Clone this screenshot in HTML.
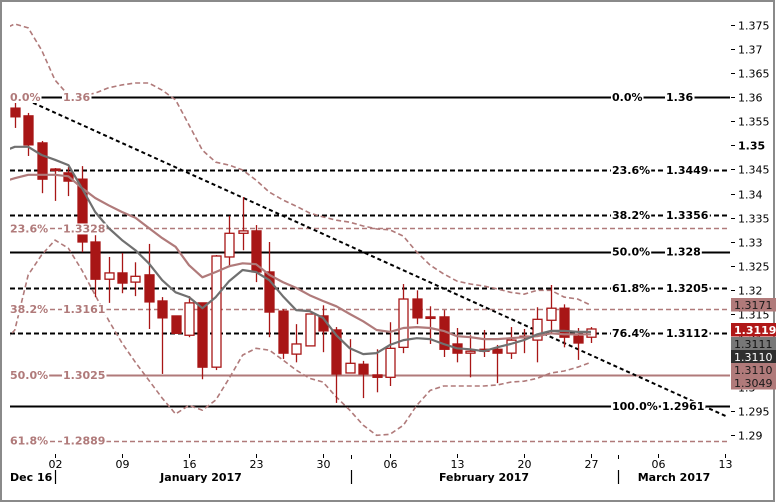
<!DOCTYPE html>
<html><head><meta charset="utf-8">
<style>
html,body{margin:0;padding:0;background:#fff;}
#wrap{position:relative;width:779px;height:503px;overflow:hidden;background:#fff;}
svg text{font-family:"DejaVu Sans","Liberation Sans",sans-serif;font-size:11px;}
</style></head>
<body>
<div id="wrap">
<svg id="chart" width="779" height="503" viewBox="0 0 779 503"></svg>
</div>
<script>
// ---- data (index 0 = Mon 02 Jan 2017, first candle index -3) ----
const firstIndex = -3;
const opens  = [1.3577,1.3561,1.3505,1.3451,1.3443,1.3430,1.3300,1.3223,1.3236,1.3217,1.3232,1.3178,1.3147,1.3107,1.3174,1.3041,1.3269,1.3318,1.3323,1.3238,1.3157,1.3068,1.3085,1.3147,1.3118,1.3029,1.3047,1.3025,1.3020,1.3082,1.3182,1.3145,1.3145,1.3089,1.3070,1.3078,1.3078,1.3070,1.3103,1.3097,1.3138,1.3163,1.3105,1.3103];
const highs  = [1.3588,1.3567,1.3509,1.3453,1.3455,1.3457,1.3314,1.3269,1.3277,1.3258,1.3296,1.3186,1.3147,1.3188,1.3174,1.3273,1.3354,1.3393,1.3335,1.3300,1.3161,1.3130,1.3151,1.3169,1.3124,1.3099,1.3054,1.3078,1.3134,1.3213,1.3200,1.3167,1.3159,1.3122,1.3107,1.3118,1.3087,1.3124,1.3120,1.3165,1.3211,1.3171,1.3122,1.3124];
const lows   = [1.3536,1.3478,1.3401,1.3385,1.3395,1.3279,1.3186,1.3174,1.3194,1.3188,1.3120,1.3027,1.3111,1.3103,1.3016,1.3035,1.3248,1.3283,1.3217,1.3103,1.3058,1.3051,1.3085,1.3072,1.2967,1.3029,1.2977,1.2989,1.3002,1.3070,1.3130,1.3089,1.3062,1.3051,1.3020,1.3062,1.3008,1.3058,1.3070,1.3051,1.3111,1.3082,1.3056,1.3091];
const closes = [1.3559,1.3501,1.3430,1.3449,1.3426,1.3300,1.3223,1.3236,1.3215,1.3229,1.3176,1.3143,1.3111,1.3174,1.3041,1.3271,1.3318,1.3323,1.3238,1.3155,1.3070,1.3089,1.3151,1.3116,1.3027,1.3049,1.3027,1.3020,1.3080,1.3182,1.3143,1.3143,1.3078,1.3070,1.3074,1.3074,1.3070,1.3097,1.3105,1.3140,1.3163,1.3103,1.3091,1.3120];
// indicator series, index -4 .. 40
const indFirst = -4;
const maFast = [1.3486,1.3497,1.3497,1.3480,1.3470,1.3459,1.3412,1.3362,1.3329,1.3304,1.3283,1.3256,1.3221,1.3196,1.3186,1.3163,1.3186,1.3219,1.3242,1.3238,1.3221,1.3188,1.3159,1.3157,1.3143,1.3107,1.3080,1.3068,1.3070,1.3087,1.3097,1.3101,1.3099,1.3089,1.3080,1.3078,1.3074,1.3082,1.3089,1.3097,1.3109,1.3116,1.3116,1.3114,1.3114];
const maSlow = [1.3424,1.3432,1.3439,1.3439,1.3439,1.3436,1.3412,1.3391,1.3376,1.3362,1.3350,1.3329,1.3308,1.3290,1.3252,1.3227,1.3238,1.3250,1.3256,1.3254,1.3232,1.3217,1.3205,1.3190,1.3178,1.3167,1.3151,1.3136,1.3118,1.3114,1.3122,1.3124,1.3122,1.3116,1.3105,1.3103,1.3099,1.3099,1.3101,1.3103,1.3105,1.3111,1.3109,1.3109,1.3109];
const bandUpper = [1.3739,1.3751,1.3743,1.3697,1.3635,1.3604,1.3602,1.3608,1.3619,1.3625,1.3629,1.3629,1.3614,1.3594,1.3542,1.3490,1.3465,1.3459,1.3449,1.3428,1.3403,1.3387,1.3374,1.3360,1.3352,1.3345,1.3341,1.3333,1.3327,1.3325,1.3312,1.3279,1.3252,1.3234,1.3219,1.3213,1.3209,1.3203,1.3196,1.3192,1.3200,1.3200,1.3186,1.3182,1.3169];
const bandLower = [1.3087,1.3118,1.3232,1.3273,1.3304,1.3287,1.3242,1.3190,1.3138,1.3091,1.3051,1.3014,1.2977,1.2944,1.2962,1.2952,1.2973,1.3018,1.3066,1.3080,1.3076,1.3056,1.3035,1.3018,1.3010,1.2979,1.2952,1.2921,1.2900,1.2902,1.2921,1.2962,1.2993,1.3002,1.3002,1.3002,1.3002,1.3004,1.3010,1.3012,1.3018,1.3029,1.3033,1.3041,1.3051];
// fibonacci levels
const fibBlackPct = ["0.0%","23.6%","38.2%","50.0%","61.8%","76.4%","100.0%"];
const fibBlackVal = [1.36,1.3449,1.3356,1.328,1.3205,1.3112,1.2961];
const fibBlackDash = [false,true,true,false,true,true,false];
const fibRosePct = ["0.0%","23.6%","38.2%","50.0%","61.8%"];
const fibRoseVal = [1.36,1.3328,1.3161,1.3025,1.2889];
const fibRoseDash = [false,true,true,false,true];
const trendIdx = [-1.64,50.2];
const trendVal = [1.3588,1.2938];
// axis
const yTicks = [1.375,1.37,1.365,1.36,1.355,1.35,1.345,1.34,1.335,1.33,1.325,1.32,1.315,1.31,1.305,1.3,1.295,1.29];
const yTickLabels = ["1.375","1.37","1.365","1.36","1.355","1.35","1.345","1.34","1.335","1.33","1.325","1.32","1.315","1.31","1.305","1.3","1.295","1.29"];
const xTickIdx = [0,5,10,15,20,25,30,35,40,45,50];
const xTickLabels = ["02","09","16","23","30","06","13","20","27","06","13"];
const monthSepIdx = [0,22.1,42];
const priceTagVals = ["1.3171","1.3119","1.3111","1.3110","1.3110","1.3049"];
const priceTagKinds = ["rose","red","gray","dark","rose","rose"];

// ---- axis functions ----
const X0 = 55, DX = 13.4, Y0 = 97, PPU = 4833;
function xs(i){ return X0 + i*DX; }
function ys(v){ return Y0 + (1.36 - v)*PPU; }

const NS = "http://www.w3.org/2000/svg";
const svg = document.getElementById('chart');
function mk(tag, attrs, parent){
  const e = document.createElementNS(NS, tag);
  for (const k in attrs) e.setAttribute(k, attrs[k]);
  (parent||svg).appendChild(e); return e;
}
const RED="#a81616", ROSE="#b07a7a", GRAY="#707070";

// frame
const frame = mk('rect',{x:1,y:1,width:773,height:500,fill:'none',stroke:'#8a8a8a','stroke-width':2});



const defs = mk('defs',{});
const cp = mk('clipPath',{id:'plotclip'},defs);
mk('rect',{x:10,y:3,width:721,height:452},cp);
const plot = mk('g',{'clip-path':'url(#plotclip)'});



// rose fib lines
for (let k=0;k<fibRoseVal.length;k++){
  if (k===0) continue;
  const y = Math.round(ys(fibRoseVal[k]))+0.5;
  const l = mk('line',{x1:10,x2:730,y1:y,y2:y,stroke:ROSE,'stroke-width':fibRoseDash[k]?1.5:2,'stroke-dasharray':fibRoseDash[k]?'5,3':'none'},plot);
  
  
}
// black fib lines
for (let k=0;k<fibBlackVal.length;k++){
  const y = Math.round(ys(fibBlackVal[k]))+0.5;
  const l = mk('line',{x1:10,x2:730,y1:y,y2:y,stroke:'#000','stroke-width':2,'stroke-dasharray':fibBlackDash[k]?'5,3':'none'},plot);
  
  
}

// bands
function pathOf(arr){
  let d='';
  arr.forEach((v,j)=>{ d += (j?'L':'M') + xs(indFirst+j).toFixed(1)+','+ys(v).toFixed(1); });
  return d;
}
const bu = mk('path',{d:pathOf(bandUpper),fill:'none',stroke:ROSE,'stroke-width':1.6,'stroke-dasharray':'5,3','stroke-linejoin':'round'},plot);


const bl = mk('path',{d:pathOf(bandLower),fill:'none',stroke:ROSE,'stroke-width':1.6,'stroke-dasharray':'5,3','stroke-linejoin':'round'},plot);



// trend line
const tl = mk('line',{x1:xs(trendIdx[0]),y1:ys(trendVal[0]),x2:xs(trendIdx[1]),y2:ys(trendVal[1]),stroke:'#000','stroke-width':2,'stroke-dasharray':'4,3'},plot);



// candles
for (let j=0;j<opens.length;j++){
  const cx = Math.round(xs(firstIndex+j))+0.5;
  const o=opens[j], c=closes[j], h=highs[j], lo=lows[j];
  const bull = c>o;
  const g = mk('g',{},plot);
  
  
  mk('line',{x1:cx,x2:cx,y1:ys(h),y2:ys(lo),stroke:RED,'stroke-width':1.3},g);
  const top = ys(Math.max(o,c)), bot = ys(Math.min(o,c));
  mk('rect',{x:cx-4.5,y:top,width:9,height:Math.max(bot-top,1.5),fill:bull?'#fff':RED,stroke:RED,'stroke-width':1.3},g);
}

// MAs
const ms = mk('path',{d:pathOf(maSlow),fill:'none',stroke:ROSE,'stroke-width':2.2,'stroke-linejoin':'round'},plot);


const mf = mk('path',{d:pathOf(maFast),fill:'none',stroke:GRAY,'stroke-width':2.2,'stroke-linejoin':'round'},plot);



// fib labels
function label(x,y,txt,color,name,bold){
  const t = mk('text',{x:x,y:y+4,fill:color,'font-weight':bold?'bold':'normal'});
  t.textContent = txt;
  
  
  const bb = t.getBBox();
  const r = mk('rect',{x:bb.x-1,y:bb.y+1,width:bb.width+2,height:bb.height-2,fill:'#fff'});
  svg.insertBefore(r,t);
  return t;
}
for (let k=0;k<fibRoseVal.length;k++){
  const y = ys(fibRoseVal[k]);
  label(10,y,fibRosePct[k],ROSE,'fib-rose-pct-label',true);
  label(63,y,String(fibRoseVal[k]),ROSE,'fib-rose-value-label',true);
}
for (let k=0;k<fibBlackVal.length;k++){
  const y = ys(fibBlackVal[k]);
  label(612,y,fibBlackPct[k],'#000','fib-black-pct-label',true);
  label(k===6?662:666,y,String(fibBlackVal[k]),'#000','fib-black-value-label',true);
}

// y axis
for (let k=0;k<yTicks.length;k++){
  const y = Math.round(ys(yTicks[k]))+0.5;
  const tk = mk('line',{x1:731,x2:735,y1:y,y2:y,stroke:'#000','stroke-width':1});
  
  
  const t = mk('text',{x:738,y:y+4,fill:'#000','font-weight':yTickLabels[k]==='1.35'?'bold':'normal'});
  t.textContent = yTickLabels[k];
  
  
}

// price tags
const tagFill = {rose:'#b07a7a',red:'#b01818',gray:'#777777',dark:'#2e2e2e'};
const tagText = {rose:'#1a1a1a',red:'#fff',gray:'#111',dark:'#fff'};
const tagTops = [298,323,337,350,363,376];
for (let k=0;k<priceTagVals.length;k++){
  const g = mk('g',{});
  
  
  mk('rect',{x:731,y:tagTops[k],width:45,height:13.5,fill:tagFill[priceTagKinds[k]]},g);
  const t = mk('text',{x:734,y:tagTops[k]+11,fill:tagText[priceTagKinds[k]],'font-weight':priceTagKinds[k]==='red'?'bold':'normal'},g);
  t.textContent = priceTagVals[k];
}

// x axis
for (let k=0;k<xTickIdx.length;k++){
  const x = Math.round(xs(xTickIdx[k]))+0.5;
  const tk = mk('line',{x1:x,x2:x,y1:454,y2:458,stroke:'#000','stroke-width':1});
  
  
  const t = mk('text',{x:x,y:468,'text-anchor':'middle',fill:'#000'});
  t.textContent = xTickLabels[k];
  
  
}
for (let k=0;k<monthSepIdx.length;k++){
  const x = Math.round(xs(monthSepIdx[k]))+0.5;
  if (k>0){ const s=mk('line',{x1:x,x2:x,y1:455,y2:459,stroke:'#000'});   }
  const s2 = mk('line',{x1:x,x2:x,y1:470,y2:484,stroke:'#000','stroke-width':1.2});
  
  
}
const months = [["Dec 16",10,'start'],["January 2017",201,'middle'],["February 2017",484,'middle'],["March 2017",674,'middle']];
months.forEach(m=>{
  const t = mk('text',{x:m[1],y:481,'text-anchor':m[2],'font-weight':'bold',fill:'#000'});
  t.textContent = m[0];
  
  
});
</script>
</body></html>
